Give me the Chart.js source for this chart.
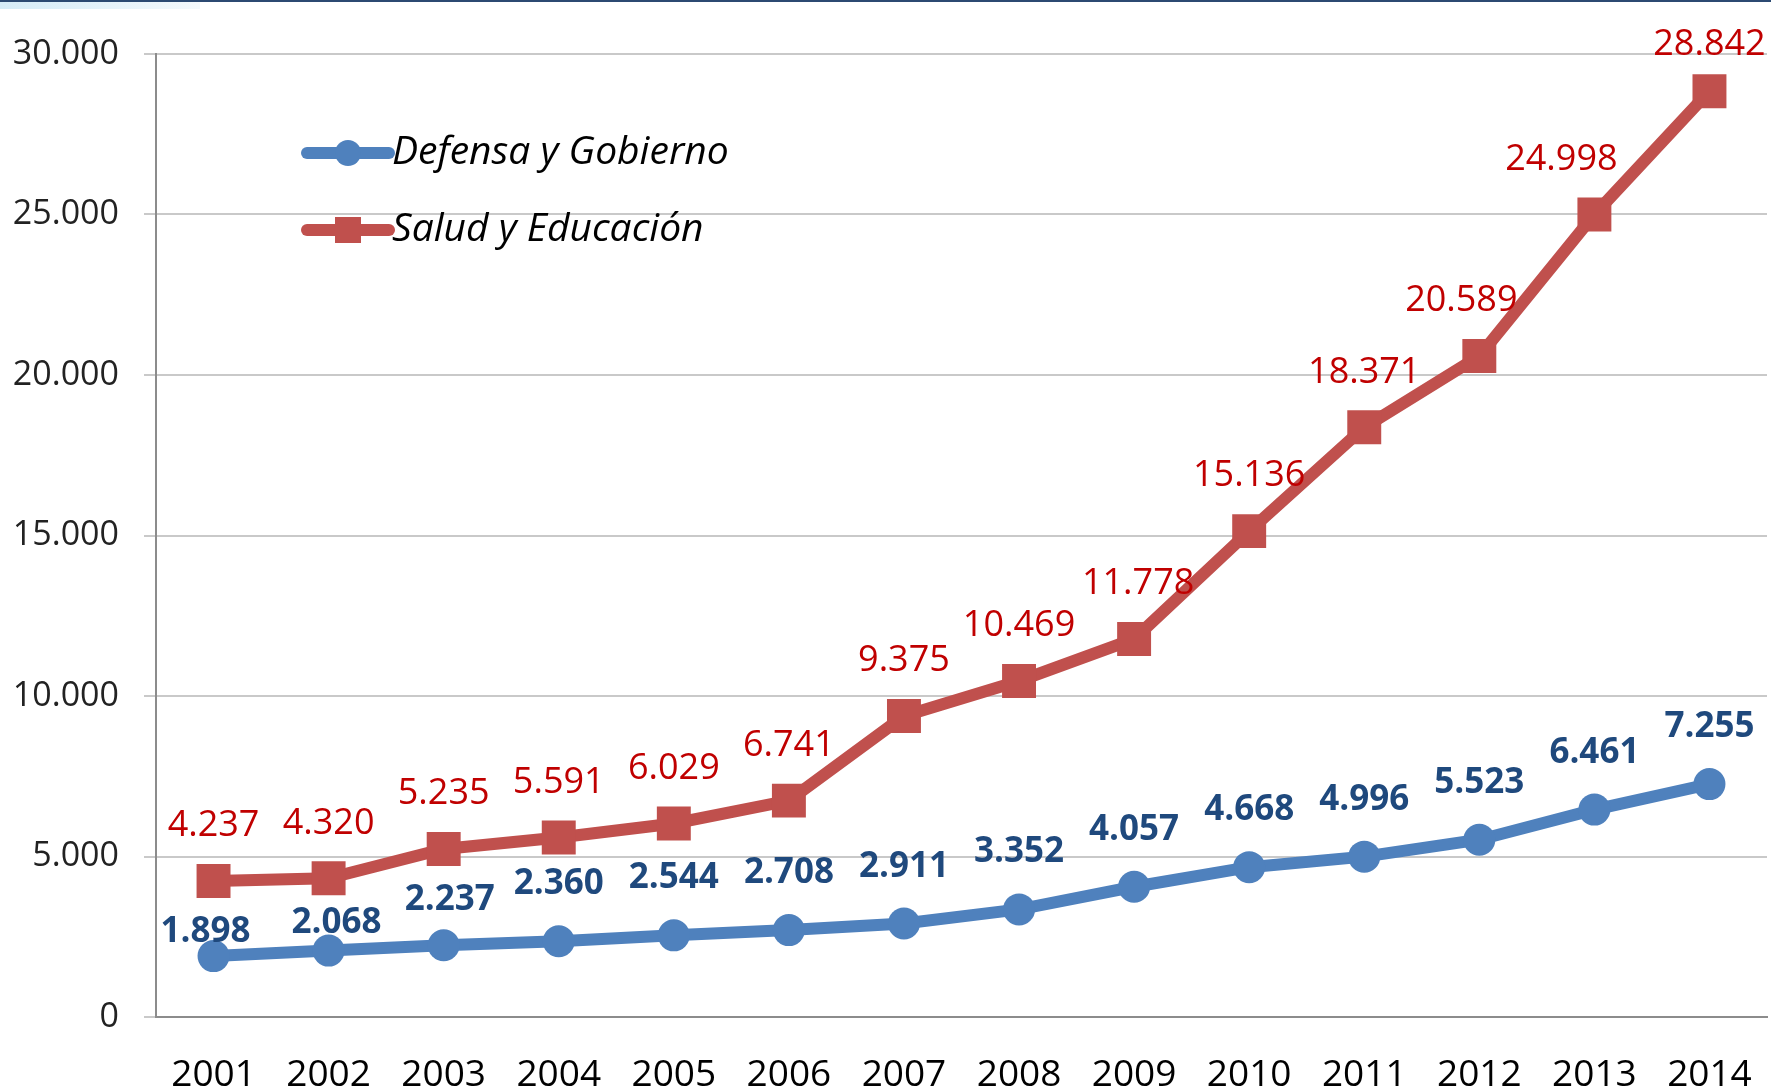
<!DOCTYPE html>
<html>
<head>
<meta charset="utf-8">
<script src="https://cdn.jsdelivr.net/npm/chart.js@4.4.1/dist/chart.umd.min.js"></script>
<style>
    html, body { margin: 0; padding: 0; background: #fff; }
    #wrap { position: relative; width: 1771px; height: 1088px; overflow: hidden; }
    #topLine { position: absolute; left: 0; top: 0; width: 1771px; height: 2px; background: #2c4a72; }
    #topBox { position: absolute; left: 0; top: 2px; width: 200px; height: 7px;
        background: linear-gradient(to right, #d6ecf7, #e6f3fa 55%, #f4f9fc); }
    canvas { position: absolute; left: 0; top: 0; }
</style>
</head>
<body>
<div id="wrap">
    <canvas id="chartPic" width="1771" height="1088"></canvas>
    <div id="topLine"></div>
    <div id="topBox"></div>
</div>
<script>
    // data
    const years = ["2001", "2002", "2003", "2004", "2005", "2006", "2007",
        "2008", "2009", "2010", "2011", "2012", "2013", "2014"];
    const defensaGobierno = [1898, 2068, 2237, 2360, 2544, 2708, 2911, 3352, 4057, 4668, 4996, 5523, 6461, 7255];
    const saludEducacion = [4237, 4320, 5235, 5591, 6029, 6741, 9375, 10469, 11778, 15136, 18371, 20589, 24998, 28842];
    const yTicks = [0, 5000, 10000, 15000, 20000, 25000, 30000];

    const FONT = "'Open Sans', sans-serif";

    function fmt(v) {
        return String(v).replace(/\B(?=(\d{3})+(?!\d))/g, ".");
    }

    // value labels above every point
    const pointLabels = {
        id: 'pointLabels',
        afterDatasetsDraw(chart, args, opts) {
            const ctx = chart.ctx;
            ctx.save();
            ctx.textAlign = 'center';
            ctx.textBaseline = 'middle';
            chart.data.datasets.forEach(function (ds, i) {
                const meta = chart.getDatasetMeta(i);
                const cfg = opts.series[i];
                ctx.font = cfg.weight + ' ' + cfg.size + 'px ' + FONT;
                ctx.fillStyle = cfg.color;
                meta.data.forEach(function (pt, j) {
                    const lift = cfg.lift[j] !== undefined ? cfg.lift[j] : cfg.lift.default;
                    const shift = cfg.shift[j] || 0;
                    ctx.fillText(fmt(ds.data[j]), pt.x + shift, pt.y - lift);
                });
            });
            ctx.restore();
        }
    };

    // legend drawn inside the plot, top left
    const innerLegend = {
        id: 'innerLegend',
        afterDraw(chart, args, opts) {
            const ctx = chart.ctx;
            ctx.save();
            chart.data.datasets.forEach(function (ds, i) {
                const y = opts.y + i * opts.rowGap;
                ctx.strokeStyle = ds.borderColor;
                ctx.lineWidth = 12;
                ctx.lineCap = 'round';
                ctx.beginPath();
                ctx.moveTo(opts.x, y);
                ctx.lineTo(opts.x + 82, y);
                ctx.stroke();
                ctx.fillStyle = ds.borderColor;
                const cx = opts.x + 41;
                if (ds.pointStyle === 'rect') {
                    ctx.fillRect(cx - 13, y - 13, 26, 26);
                } else {
                    ctx.beginPath();
                    ctx.arc(cx, y, 13, 0, Math.PI * 2);
                    ctx.fill();
                }
                ctx.fillStyle = '#000';
                ctx.font = 'italic 39px ' + FONT;
                ctx.textAlign = 'left';
                ctx.textBaseline = 'middle';
                ctx.fillText(ds.label, opts.x + 85, y);
            });
            ctx.restore();
        }
    };

    const ctx = document.getElementById("chartPic");
    const myChart = new Chart(ctx, {
        type: 'line',
        data: {
            labels: years,
            datasets: [
                {
                    label: 'Defensa y Gobierno',
                    data: defensaGobierno,
                    borderColor: '#4F81BD',
                    backgroundColor: '#4F81BD',
                    borderWidth: 12,
                    pointStyle: 'circle',
                    pointRadius: 16,
                    pointBorderWidth: 0,
                    tension: 0
                },
                {
                    label: 'Salud y Educación',
                    data: saludEducacion,
                    borderColor: '#C0504D',
                    backgroundColor: '#C0504D',
                    borderWidth: 12,
                    pointStyle: 'rect',
                    pointRadius: 24,
                    pointBorderWidth: 0,
                    tension: 0
                }
            ]
        },
        options: {
            responsive: false,
            animation: false,
            layout: {
                autoPadding: false,
                padding: {top: 54, right: 4, left: 0, bottom: 0}
            },
            scales: {
                x: {
                    offset: true,
                    grid: {display: false, drawTicks: false},
                    border: {display: true, color: '#8c8c8c', width: 2},
                    ticks: {
                        color: '#000',
                        padding: 36,
                        maxRotation: 0,
                        autoSkip: false,
                        font: {size: 37, family: FONT}
                    },
                    afterFit: function (scale) {
                        scale.height = 71;
                        scale.paddingLeft = 0;
                        scale.paddingRight = 0;
                    }
                },
                y: {
                    min: 0,
                    max: 30000,
                    afterBuildTicks: function (scale) {
                        scale.ticks = yTicks.map(function (v) { return {value: v}; });
                    },
                    grid: {
                        color: '#c9c9c9',
                        lineWidth: 2,
                        tickLength: 12,
                        drawTicks: true
                    },
                    border: {display: true, color: '#8c8c8c', width: 2},
                    ticks: {
                        color: '#222',
                        padding: 25,
                        font: {size: 34, family: FONT},
                        callback: function (value) {
                            return fmt(value);
                        }
                    },
                    afterFit: function (scale) {
                        scale.width = 156;
                    }
                }
            },
            plugins: {
                legend: {display: false},
                tooltip: {enabled: false},
                innerLegend: {x: 307, y: 153, rowGap: 77},
                pointLabels: {
                    series: [
                        {
                            color: '#1F497D', weight: 'bold', size: 35,
                            lift: {default: 57, 0: 24, 1: 28, 2: 45},
                            shift: {0: -8, 1: 8, 2: 6}
                        },
                        {
                            color: '#C00000', weight: 'normal', size: 36,
                            lift: {default: 55, 13: 46},
                            shift: {11: -18, 12: -33, 8: 4}
                        }
                    ]
                }
            }
        },
        plugins: [pointLabels, innerLegend]
    });
</script>
</body>
</html>
